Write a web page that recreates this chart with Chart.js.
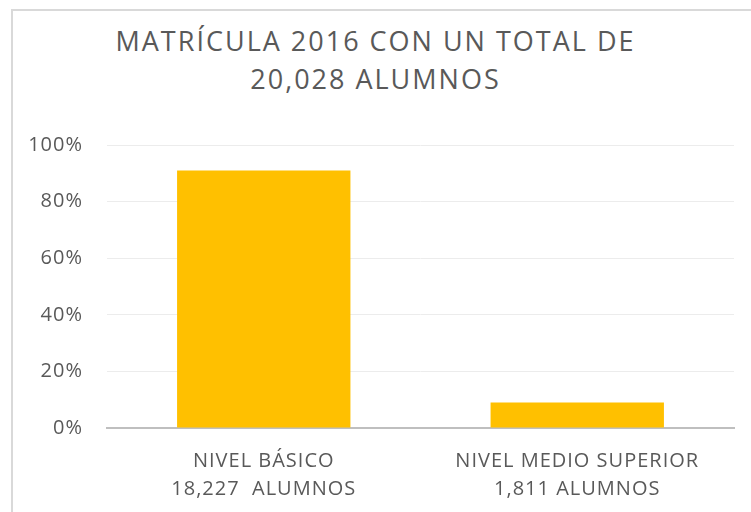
<!DOCTYPE html>
<html lang="es">
<head>
<meta charset="utf-8">
<title>Matrícula 2016</title>
<script src="https://cdn.jsdelivr.net/npm/chart.js@4/dist/chart.umd.min.js"></script>
<style>
  html, body { margin: 0; padding: 0; background: #fff; }
  body { width: 751px; height: 512px; position: relative; overflow: hidden; }
  .frame {
    position: absolute; left: 11px; top: 9px; width: 800px; height: 600px;
    border-left: 2px solid #d9d9d9; border-top: 2px solid #d9d9d9;
  }
  .title {
    position: absolute; left: 0; width: 751px; top: 22px;
    text-align: center; color: #595959;
    font: 27px/38px "Open Sans", sans-serif; letter-spacing: 2px;
  }
  #chart { position: absolute; left: 0; top: 0; }
</style>
</head>
<body>
<div class="frame"></div>
<div class="title">MATRÍCULA 2016 CON UN TOTAL DE<br>20,028 ALUMNOS</div>
<canvas id="chart" width="751" height="512"></canvas>
<script>
const niveles = ["NIVEL BÁSICO", "NIVEL MEDIO SUPERIOR"];
const alumnos = [18227, 1811];
const alumnosTxt = ["18,227  ALUMNOS", "1,811 ALUMNOS"];
const totalAlumnos = 20028;
const yTicks = [0, 20, 40, 60, 80, 100];

const porcentajes = alumnos.map((n) => (n / totalAlumnos) * 100);
const etiquetas = niveles.map((n, i) => [n, alumnosTxt[i]]);

const gris = "#595959";
const fuente = { family: "'Open Sans', sans-serif", size: 20 };

// canvas text has no CSS letter-spacing, so widen it while drawing
const spacing = {
  id: "spacing",
  beforeDraw(chart) { chart.ctx.letterSpacing = "1px"; },
  afterDraw(chart) { chart.ctx.letterSpacing = "0px"; },
};

new Chart(document.getElementById("chart"), {
  type: "bar",
  data: {
    labels: etiquetas,
    datasets: [{
      data: porcentajes,
      backgroundColor: "#FFC000",
      categoryPercentage: 1,
      barPercentage: 0.553,
    }],
  },
  options: {
    responsive: false,
    animation: false,
    layout: { padding: { top: 145, right: 17, left: 0, bottom: 0 } },
    plugins: { legend: { display: false }, tooltip: { enabled: false } },
    scales: {
      x: {
        grid: { display: false, drawTicks: false },
        border: { display: true, color: "#bfbfbf", width: 2 },
        ticks: { color: gris, font: { ...fuente, lineHeight: 1.4 }, padding: 19, maxRotation: 0 },
        afterFit: (s) => { s.height = 84; },
      },
      y: {
        min: 0,
        max: 100,
        afterBuildTicks: (s) => { s.ticks = yTicks.map((v) => ({ value: v })); },
        grid: { color: "#ececec", lineWidth: 1, drawTicks: false },
        border: { display: false },
        ticks: { color: gris, font: fuente, padding: 24, callback: (v) => v + "%" },
        afterFit: (s) => { s.width = 107; },
      },
    },
  },
  plugins: [spacing],
});
</script>
</body>
</html>
